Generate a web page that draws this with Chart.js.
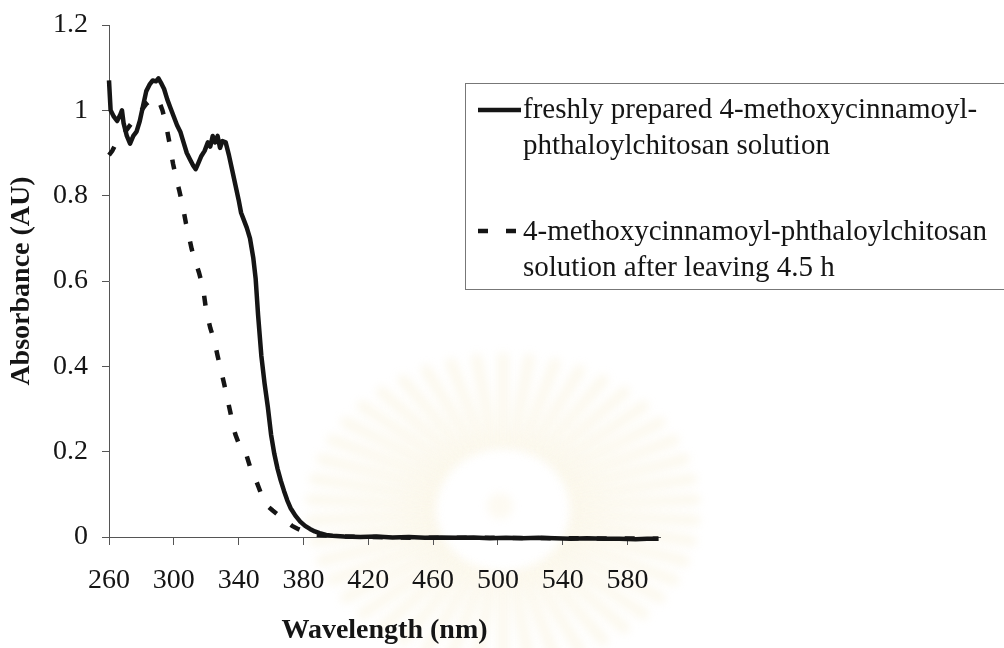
<!DOCTYPE html>
<html>
<head>
<meta charset="utf-8">
<title>UV absorbance spectra</title>
<script src="https://cdn.jsdelivr.net/npm/chart.js@4.4.1/dist/chart.umd.min.js"></script>
<style>
  html, body { margin: 0; padding: 0; background: #fff; }
  #wrap { width: 1004px; height: 648px; position: relative; }
</style>
</head>
<body>
<div id="wrap"><canvas id="spectrum"></canvas></div>
<script>
// freshly prepared solution (wavelength nm / absorbance AU)
var freshNm = [260, 261, 263, 265, 267, 268, 269, 271, 273, 275, 277, 279, 281, 283, 285, 287, 289, 290.5, 292, 294,
  296, 298, 300, 302, 304, 306, 308, 310, 312, 313.5, 315, 317, 319, 321, 322.5, 324, 325.5, 327, 328.5, 330,
  332, 334, 336, 338, 340, 341.5, 343, 345, 347, 349, 350.5, 352, 354, 356, 358, 360, 362, 364, 366, 368,
  370, 372, 375, 378, 381, 384, 387, 390, 394, 398, 405, 415, 425, 435, 445, 455, 465, 475, 485, 495,
  505, 515, 525, 535, 545, 555, 565, 575, 585, 592, 599];
var freshAbs = [1.07, 1.0, 0.985, 0.975, 0.99, 1.0, 0.97, 0.94, 0.922, 0.94, 0.95, 0.975, 1.01, 1.045, 1.06, 1.07, 1.068, 1.075, 1.065, 1.05,
  1.025, 1.005, 0.985, 0.965, 0.95, 0.925, 0.9, 0.885, 0.87, 0.862, 0.875, 0.893, 0.905, 0.925, 0.915, 0.94, 0.925, 0.94, 0.912, 0.928,
  0.925, 0.895, 0.86, 0.825, 0.79, 0.76, 0.745, 0.725, 0.70, 0.655, 0.605, 0.52, 0.425, 0.36, 0.305, 0.24, 0.195, 0.16, 0.132, 0.108,
  0.086, 0.068, 0.05, 0.036, 0.026, 0.019, 0.013, 0.009, 0.005, 0.003, 0.001, 0.0, 0.001, -0.001, 0.0, -0.002, -0.001, -0.002, -0.001, -0.003,
  -0.002, -0.003, -0.002, -0.003, -0.004, -0.003, -0.004, -0.004, -0.005, -0.004, -0.004];

// same solution after standing 4.5 h
var agedNm = [260, 262, 264, 266, 268, 271, 274, 277, 280, 283, 286, 288.5, 291, 293, 295, 297.5, 299.5, 301.5, 303.5, 305.5,
  307.5, 309, 311, 313, 315.5, 318, 320, 322.5, 325, 327, 329, 331, 333, 335, 336.5, 338, 340.5, 343, 345, 347,
  349, 352, 355, 358, 361, 364, 367, 370, 373, 376, 379, 383, 387, 392, 400, 420, 450, 500, 550, 599];
var agedAbs = [0.895, 0.905, 0.92, 0.935, 0.94, 0.955, 0.97, 0.985, 1.0, 1.015, 1.025, 1.03, 1.02, 1.0, 0.97, 0.92, 0.875, 0.84, 0.81, 0.775,
  0.735, 0.71, 0.675, 0.65, 0.62, 0.585, 0.53, 0.49, 0.46, 0.425, 0.392, 0.36, 0.325, 0.29, 0.26, 0.24, 0.215, 0.21, 0.19, 0.165,
  0.15, 0.12, 0.09, 0.072, 0.062, 0.053, 0.045, 0.035, 0.026, 0.02, 0.015, 0.01, 0.006, 0.004, 0.002, 0.0, -0.002, -0.002, -0.003, -0.004];

var xTicks = [260, 300, 340, 380, 420, 460, 500, 540, 580];
var yTicks = [0, 0.2, 0.4, 0.6, 0.8, 1.0, 1.2];

var freshLabel = ['freshly prepared 4-methoxycinnamoyl-', 'phthaloylchitosan solution'];
var agedLabel = ['4-methoxycinnamoyl-phthaloylchitosan', 'solution after leaving 4.5 h'];

var serif = '"Liberation Serif", "Times New Roman", serif';
var ink = '#151515';

function toPoints(xs, ys) {
  var pts = [];
  for (var i = 0; i < xs.length; i++) pts.push({ x: xs[i], y: ys[i] });
  return pts;
}

// pale sunburst emblem printed behind the plot
var emblem = {
  id: 'emblem',
  beforeDraw: function(chart) {
    var ctx = chart.ctx;
    var cx = 503, cy = 510;
    ctx.save();
    ctx.filter = 'blur(4px)';
    ctx.strokeStyle = 'rgba(240, 222, 160, 0.17)';
    ctx.lineCap = 'round';
    ctx.lineWidth = 12;
    var n = 46;
    for (var i = 0; i < n; i++) {
      var a = (i + 0.5) * 2 * Math.PI / n;
      var c = Math.cos(a), s = Math.sin(a);
      ctx.beginPath();
      ctx.moveTo(cx + c * 72, cy + s * 66);
      ctx.lineTo(cx + c * 192, cy + s * 152);
      ctx.stroke();
    }
    ctx.fillStyle = 'rgba(240, 222, 160, 0.14)';
    ctx.beginPath();
    ctx.arc(cx - 3, cy - 4, 13, 0, 2 * Math.PI);
    ctx.fill();
    ctx.restore();
  }
};

// boxed legend with two-line labels
var sideLegend = {
  id: 'sideLegend',
  afterDraw: function(chart) {
    var ctx = chart.ctx;
    var sets = chart.data.datasets;
    ctx.save();
    ctx.strokeStyle = '#777';
    ctx.lineWidth = 1;
    ctx.strokeRect(465.5, 83.5, 560, 206);

    var rows = [
      { ds: sets[0], lines: freshLabel, sampleY: 110, textY: 118 },
      { ds: sets[1], lines: agedLabel, sampleY: 231, textY: 240 }
    ];
    ctx.font = '29px ' + serif;
    ctx.fillStyle = ink;
    ctx.textAlign = 'left';
    ctx.textBaseline = 'alphabetic';
    rows.forEach(function(r) {
      ctx.save();
      ctx.strokeStyle = r.ds.borderColor;
      ctx.lineWidth = r.ds.borderWidth;
      ctx.setLineDash(r.ds.borderDash || []);
      ctx.beginPath();
      ctx.moveTo(478, r.sampleY);
      ctx.lineTo(521, r.sampleY);
      ctx.stroke();
      ctx.restore();
      r.lines.forEach(function(t, k) {
        ctx.fillText(t, 523, r.textY + k * 36);
      });
    });
    ctx.restore();
  }
};

new Chart(document.getElementById('spectrum'), {
  type: 'line',
  data: {
    datasets: [
      {
        label: freshLabel.join(' '),
        data: toPoints(freshNm, freshAbs),
        borderColor: ink,
        borderWidth: 4.5,
        pointRadius: 0,
        tension: 0,
        borderJoinStyle: 'round',
        clip: 10
      },
      {
        label: agedLabel.join(' '),
        data: toPoints(agedNm, agedAbs),
        borderColor: ink,
        borderWidth: 4.5,
        borderDash: [10, 18],
        borderCapStyle: 'butt',
        pointRadius: 0,
        tension: 0,
        clip: 10
      }
    ]
  },
  options: {
    responsive: true,
    maintainAspectRatio: false,
    animation: false,
    devicePixelRatio: 1,
    layout: { padding: { left: 0, top: 25, right: 344, bottom: 0 } },
    plugins: {
      legend: { display: false },
      tooltip: { enabled: false }
    },
    scales: {
      x: {
        type: 'linear',
        min: 260,
        max: 600,
        afterBuildTicks: function(axis) {
          axis.ticks = xTicks.map(function(v) { return { value: v }; });
        },
        afterFit: function(axis) { axis.height = 111; },
        ticks: { color: ink, padding: 19, maxRotation: 0, font: { family: serif, size: 28 } },
        grid: { drawOnChartArea: false, drawTicks: true, tickLength: 8, tickColor: '#555', tickWidth: 1 },
        border: { color: '#555', width: 1 },
        title: {
          display: true,
          text: 'Wavelength (nm)',
          color: ink,
          padding: { top: 0, bottom: 0 },
          font: { family: serif, size: 28, weight: 'bold' }
        }
      },
      y: {
        min: 0,
        max: 1.2,
        afterBuildTicks: function(axis) {
          axis.ticks = yTicks.map(function(v) { return { value: v }; });
        },
        afterFit: function(axis) {
          axis.width = 109;
          axis.paddingTop = 0;
          axis.paddingBottom = 0;
        },
        ticks: {
          color: ink,
          padding: 14,
          font: { family: serif, size: 28 },
          callback: function(v) { return String(+v.toFixed(1)); }
        },
        grid: { drawOnChartArea: false, drawTicks: true, tickLength: 7, tickColor: '#555', tickWidth: 1 },
        border: { color: '#555', width: 1 },
        title: {
          display: true,
          text: 'Absorbance (AU)',
          color: ink,
          padding: { top: 5, bottom: 0 },
          font: { family: serif, size: 28, weight: 'bold' }
        }
      }
    }
  },
  plugins: [emblem, sideLegend]
});
</script>
</body>
</html>
